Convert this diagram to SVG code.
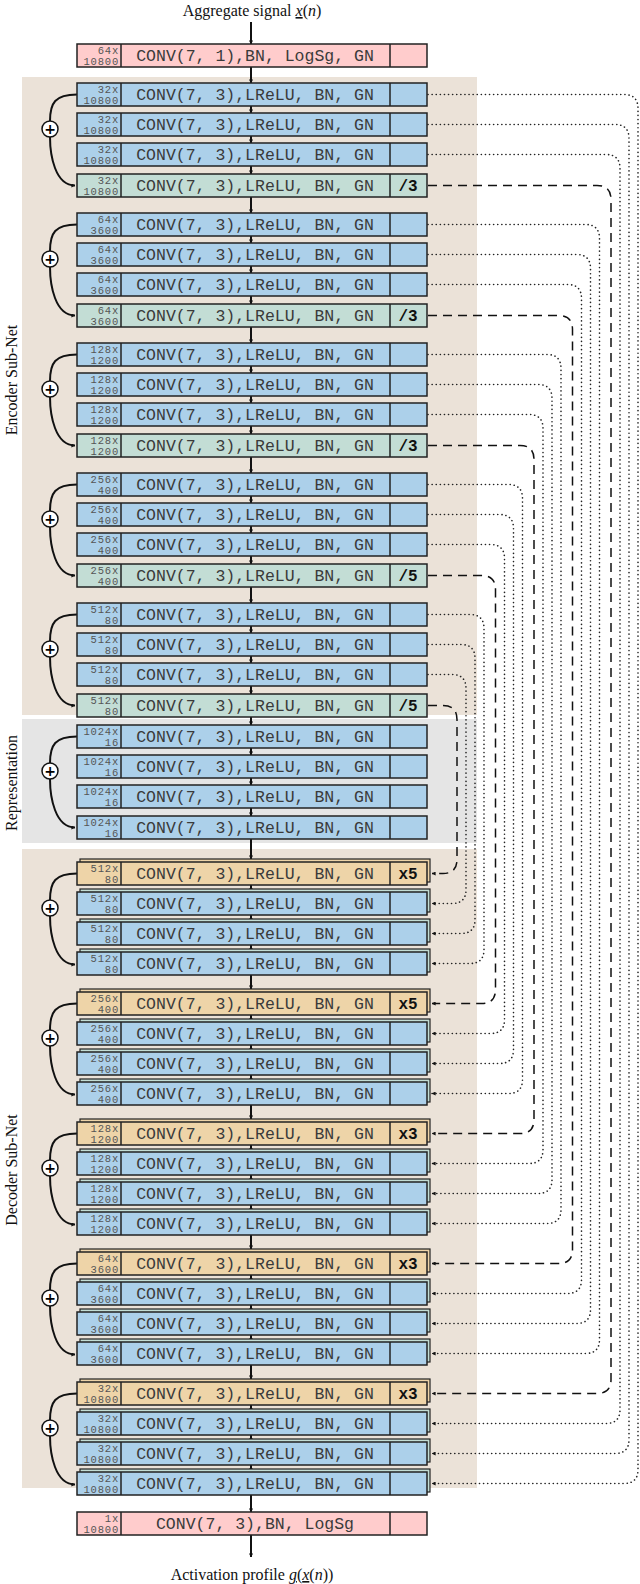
<svg xmlns="http://www.w3.org/2000/svg" xmlns:xlink="http://www.w3.org/1999/xlink" width="640" height="1584" viewBox="0 0 640 1584">
<style>
.bl{fill:#acd0ea}.gr{fill:#c3ddd5}.or{fill:#eed4a8}.pk{fill:#ffcccc}
.n{font-family:"Liberation Mono",monospace;font-size:10.5px;fill:#555;text-anchor:end;letter-spacing:0.8px}
.m{font-family:"Liberation Mono",monospace;font-size:16.5px;fill:#3a3a3a;text-anchor:middle}
.r{font-family:"Liberation Mono",monospace;font-size:16px;font-weight:bold;fill:#111;text-anchor:middle}
.s{font-family:"Liberation Serif",serif;font-size:16px;fill:#111;text-anchor:middle}
.dot{fill:none;stroke:#222;stroke-width:1.6;stroke-linecap:round;stroke-dasharray:0.1 4;marker-end:url(#ah)}
.dsh{fill:none;stroke:#111;stroke-width:1.5;stroke-dasharray:9 6;marker-end:url(#ah)}
.va{stroke:#111;stroke-width:2;marker-end:url(#ah)}
.sk{fill:none;stroke:#111;stroke-width:2}
</style>
<defs>
<marker id="ah" viewBox="0 0 10 10" refX="9" refY="5" markerWidth="4" markerHeight="4" orient="auto" markerUnits="userSpaceOnUse"><path d="M0,0L10,5L0,10z" fill="#111"/></marker>
<g id="box"><rect x="77" y="0" width="350" height="23" stroke="#222" stroke-width="1.5"/><path d="M121,0V23M390,0V23" stroke="#222" stroke-width="1.5"/></g>
<g id="sh"><rect x="80" y="-3" width="350" height="23" fill="#c3ddd5" stroke="#222" stroke-width="1.2"/></g>
<g id="sho"><rect x="80" y="-3" width="350" height="23" fill="#eed4a8" stroke="#222" stroke-width="1.2"/></g>
<g id="skip"><path class="sk" d="M77,11.5C55,11.5 50,20 50,38"/><path class="sk" d="M50,54C50,72 55,102.5 75,102.5" marker-end="url(#ah)"/><circle cx="50" cy="46" r="8" fill="#fff" stroke="#111" stroke-width="1.5"/><text x="50" y="51" style="font-family:'DejaVu Sans',sans-serif;font-size:14px;font-weight:bold;text-anchor:middle">+</text></g>
</defs>
<rect x="22" y="77" width="455" height="638" fill="#ebe2d8"/>
<rect x="22" y="719" width="455" height="124" fill="#e5e5e5"/>
<rect x="22" y="849" width="455" height="639" fill="#ebe2d8"/>
<text class="s" transform="translate(17,380) rotate(-90)">Encoder Sub-Net</text>
<text class="s" transform="translate(17,783) rotate(-90)">Representation</text>
<text class="s" transform="translate(17,1170) rotate(-90)">Decoder Sub-Net</text>
<text class="s" x="252" y="16">Aggregate signal <tspan font-style="italic" text-decoration="underline">x</tspan>(<tspan font-style="italic">n</tspan>)</text>
<text class="s" x="252" y="1580">Activation profile <tspan font-style="italic" text-decoration="underline">g</tspan>(<tspan font-style="italic" text-decoration="underline">x</tspan>(<tspan font-style="italic">n</tspan>))</text>
<g id="arrows">
<line class="va" x1="251" y1="22" x2="251" y2="44"/><line class="va" x1="251" y1="67" x2="251" y2="83"/>
<line class="va" x1="251" y1="106" x2="251" y2="113"/><line class="va" x1="251" y1="136" x2="251" y2="143"/><line class="va" x1="251" y1="166" x2="251" y2="174"/><line class="va" x1="251" y1="197" x2="251" y2="213"/>
<line class="va" x1="251" y1="236" x2="251" y2="243"/><line class="va" x1="251" y1="266" x2="251" y2="273"/><line class="va" x1="251" y1="296" x2="251" y2="304"/><line class="va" x1="251" y1="327" x2="251" y2="343"/>
<line class="va" x1="251" y1="366" x2="251" y2="373"/><line class="va" x1="251" y1="396" x2="251" y2="403"/><line class="va" x1="251" y1="426" x2="251" y2="434"/><line class="va" x1="251" y1="457" x2="251" y2="473"/>
<line class="va" x1="251" y1="496" x2="251" y2="503"/><line class="va" x1="251" y1="526" x2="251" y2="533"/><line class="va" x1="251" y1="556" x2="251" y2="564"/><line class="va" x1="251" y1="587" x2="251" y2="603"/>
<line class="va" x1="251" y1="626" x2="251" y2="633"/><line class="va" x1="251" y1="656" x2="251" y2="663"/><line class="va" x1="251" y1="686" x2="251" y2="694"/><line class="va" x1="251" y1="717" x2="251" y2="725"/>
<line class="va" x1="251" y1="748" x2="251" y2="755"/><line class="va" x1="251" y1="778" x2="251" y2="785"/><line class="va" x1="251" y1="808" x2="251" y2="816"/><line class="va" x1="251" y1="839" x2="251" y2="859"/>
<line class="va" x1="251" y1="885" x2="251" y2="892"/><line class="va" x1="251" y1="915" x2="251" y2="922"/><line class="va" x1="251" y1="945" x2="251" y2="952"/><line class="va" x1="251" y1="975" x2="251" y2="989"/>
<line class="va" x1="251" y1="1015" x2="251" y2="1022"/><line class="va" x1="251" y1="1045" x2="251" y2="1052"/><line class="va" x1="251" y1="1075" x2="251" y2="1082"/><line class="va" x1="251" y1="1105" x2="251" y2="1119"/>
<line class="va" x1="251" y1="1145" x2="251" y2="1152"/><line class="va" x1="251" y1="1175" x2="251" y2="1182"/><line class="va" x1="251" y1="1205" x2="251" y2="1212"/><line class="va" x1="251" y1="1235" x2="251" y2="1249"/>
<line class="va" x1="251" y1="1275" x2="251" y2="1282"/><line class="va" x1="251" y1="1305" x2="251" y2="1312"/><line class="va" x1="251" y1="1335" x2="251" y2="1342"/><line class="va" x1="251" y1="1365" x2="251" y2="1379"/>
<line class="va" x1="251" y1="1405" x2="251" y2="1412"/><line class="va" x1="251" y1="1435" x2="251" y2="1442"/><line class="va" x1="251" y1="1465" x2="251" y2="1472"/><line class="va" x1="251" y1="1495" x2="251" y2="1512"/>
<line class="va" x1="251" y1="1535" x2="251" y2="1557"/>
<use href="#skip" y="83"/><use href="#skip" y="213"/><use href="#skip" y="343"/><use href="#skip" y="473"/><use href="#skip" y="603"/>
<use href="#skip" y="725"/><use href="#skip" y="862"/><use href="#skip" y="992"/><use href="#skip" y="1122"/><use href="#skip" y="1252"/><use href="#skip" y="1382"/>
<path class="dot" d="M428,94.5H624Q638,94.5 638,108.5V1469.5Q638,1483.5 624,1483.5H432"/>
<path class="dot" d="M428,124.5H615Q629,124.5 629,138.5V1439.5Q629,1453.5 615,1453.5H432"/>
<path class="dot" d="M428,154.5H606Q620,154.5 620,168.5V1409.5Q620,1423.5 606,1423.5H432"/>
<path class="dsh" d="M428,185.5H597Q611,185.5 611,199.5V1379.5Q611,1393.5 597,1393.5H432"/>
<path class="dot" d="M428,224.5H585.5Q599.5,224.5 599.5,238.5V1339.5Q599.5,1353.5 585.5,1353.5H432"/>
<path class="dot" d="M428,254.5H576.5Q590.5,254.5 590.5,268.5V1309.5Q590.5,1323.5 576.5,1323.5H432"/>
<path class="dot" d="M428,284.5H567.5Q581.5,284.5 581.5,298.5V1279.5Q581.5,1293.5 567.5,1293.5H432"/>
<path class="dsh" d="M428,315.5H558.5Q572.5,315.5 572.5,329.5V1249.5Q572.5,1263.5 558.5,1263.5H432"/>
<path class="dot" d="M428,354.5H547Q561,354.5 561,368.5V1209.5Q561,1223.5 547,1223.5H432"/>
<path class="dot" d="M428,384.5H538Q552,384.5 552,398.5V1179.5Q552,1193.5 538,1193.5H432"/>
<path class="dot" d="M428,414.5H529Q543,414.5 543,428.5V1149.5Q543,1163.5 529,1163.5H432"/>
<path class="dsh" d="M428,445.5H520Q534,445.5 534,459.5V1119.5Q534,1133.5 520,1133.5H432"/>
<path class="dot" d="M428,484.5H508.5Q522.5,484.5 522.5,498.5V1079.5Q522.5,1093.5 508.5,1093.5H432"/>
<path class="dot" d="M428,514.5H499.5Q513.5,514.5 513.5,528.5V1049.5Q513.5,1063.5 499.5,1063.5H432"/>
<path class="dot" d="M428,544.5H490.5Q504.5,544.5 504.5,558.5V1019.5Q504.5,1033.5 490.5,1033.5H432"/>
<path class="dsh" d="M428,575.5H481.5Q495.5,575.5 495.5,589.5V989.5Q495.5,1003.5 481.5,1003.5H432"/>
<path class="dot" d="M428,614.5H470Q484,614.5 484,628.5V949.5Q484,963.5 470,963.5H432"/>
<path class="dot" d="M428,644.5H461Q475,644.5 475,658.5V919.5Q475,933.5 461,933.5H432"/>
<path class="dot" d="M428,674.5H452Q466,674.5 466,688.5V889.5Q466,903.5 452,903.5H432"/>
<path class="dsh" d="M428,705.5H443Q457,705.5 457,719.5V859.5Q457,873.5 443,873.5H432"/>
</g>
<g id="in"><use href="#box" y="44" class="pk"/><text class="n" x="119" y="53.5">64x</text><text class="n" x="119" y="65">10800</text><text class="m" x="255" y="61">CONV(7, 1),BN, LogSg, GN</text></g>
<g id="out"><use href="#box" y="1512" class="pk"/><text class="n" x="119" y="1521.5">1x</text><text class="n" x="119" y="1533">10800</text><text class="m" x="255" y="1529">CONV(7, 3),BN, LogSg</text></g>
<g id="enc0">
<use href="#box" y="83" class="bl"/><text class="n" x="119" y="92.5">32x</text><text class="n" x="119" y="104">10800</text><text class="m" x="255" y="100">CONV(7, 3),LReLU, BN, GN</text>
<use href="#box" y="113" class="bl"/><text class="n" x="119" y="122.5">32x</text><text class="n" x="119" y="134">10800</text><text class="m" x="255" y="130">CONV(7, 3),LReLU, BN, GN</text>
<use href="#box" y="143" class="bl"/><text class="n" x="119" y="152.5">32x</text><text class="n" x="119" y="164">10800</text><text class="m" x="255" y="160">CONV(7, 3),LReLU, BN, GN</text>
<use href="#box" y="174" class="gr"/><text class="n" x="119" y="183.5">32x</text><text class="n" x="119" y="195">10800</text><text class="m" x="255" y="191">CONV(7, 3),LReLU, BN, GN</text><text class="r" x="408" y="191">/3</text>
</g>
<g id="enc1">
<use href="#box" y="213" class="bl"/><text class="n" x="119" y="222.5">64x</text><text class="n" x="119" y="234">3600</text><text class="m" x="255" y="230">CONV(7, 3),LReLU, BN, GN</text>
<use href="#box" y="243" class="bl"/><text class="n" x="119" y="252.5">64x</text><text class="n" x="119" y="264">3600</text><text class="m" x="255" y="260">CONV(7, 3),LReLU, BN, GN</text>
<use href="#box" y="273" class="bl"/><text class="n" x="119" y="282.5">64x</text><text class="n" x="119" y="294">3600</text><text class="m" x="255" y="290">CONV(7, 3),LReLU, BN, GN</text>
<use href="#box" y="304" class="gr"/><text class="n" x="119" y="313.5">64x</text><text class="n" x="119" y="325">3600</text><text class="m" x="255" y="321">CONV(7, 3),LReLU, BN, GN</text><text class="r" x="408" y="321">/3</text>
</g>
<g id="enc2">
<use href="#box" y="343" class="bl"/><text class="n" x="119" y="352.5">128x</text><text class="n" x="119" y="364">1200</text><text class="m" x="255" y="360">CONV(7, 3),LReLU, BN, GN</text>
<use href="#box" y="373" class="bl"/><text class="n" x="119" y="382.5">128x</text><text class="n" x="119" y="394">1200</text><text class="m" x="255" y="390">CONV(7, 3),LReLU, BN, GN</text>
<use href="#box" y="403" class="bl"/><text class="n" x="119" y="412.5">128x</text><text class="n" x="119" y="424">1200</text><text class="m" x="255" y="420">CONV(7, 3),LReLU, BN, GN</text>
<use href="#box" y="434" class="gr"/><text class="n" x="119" y="443.5">128x</text><text class="n" x="119" y="455">1200</text><text class="m" x="255" y="451">CONV(7, 3),LReLU, BN, GN</text><text class="r" x="408" y="451">/3</text>
</g>
<g id="enc3">
<use href="#box" y="473" class="bl"/><text class="n" x="119" y="482.5">256x</text><text class="n" x="119" y="494">400</text><text class="m" x="255" y="490">CONV(7, 3),LReLU, BN, GN</text>
<use href="#box" y="503" class="bl"/><text class="n" x="119" y="512.5">256x</text><text class="n" x="119" y="524">400</text><text class="m" x="255" y="520">CONV(7, 3),LReLU, BN, GN</text>
<use href="#box" y="533" class="bl"/><text class="n" x="119" y="542.5">256x</text><text class="n" x="119" y="554">400</text><text class="m" x="255" y="550">CONV(7, 3),LReLU, BN, GN</text>
<use href="#box" y="564" class="gr"/><text class="n" x="119" y="573.5">256x</text><text class="n" x="119" y="585">400</text><text class="m" x="255" y="581">CONV(7, 3),LReLU, BN, GN</text><text class="r" x="408" y="581">/5</text>
</g>
<g id="enc4">
<use href="#box" y="603" class="bl"/><text class="n" x="119" y="612.5">512x</text><text class="n" x="119" y="624">80</text><text class="m" x="255" y="620">CONV(7, 3),LReLU, BN, GN</text>
<use href="#box" y="633" class="bl"/><text class="n" x="119" y="642.5">512x</text><text class="n" x="119" y="654">80</text><text class="m" x="255" y="650">CONV(7, 3),LReLU, BN, GN</text>
<use href="#box" y="663" class="bl"/><text class="n" x="119" y="672.5">512x</text><text class="n" x="119" y="684">80</text><text class="m" x="255" y="680">CONV(7, 3),LReLU, BN, GN</text>
<use href="#box" y="694" class="gr"/><text class="n" x="119" y="703.5">512x</text><text class="n" x="119" y="715">80</text><text class="m" x="255" y="711">CONV(7, 3),LReLU, BN, GN</text><text class="r" x="408" y="711">/5</text>
</g>
<g id="rep">
<use href="#box" y="725" class="bl"/><text class="n" x="119" y="734.5">1024x</text><text class="n" x="119" y="746">16</text><text class="m" x="255" y="742">CONV(7, 3),LReLU, BN, GN</text>
<use href="#box" y="755" class="bl"/><text class="n" x="119" y="764.5">1024x</text><text class="n" x="119" y="776">16</text><text class="m" x="255" y="772">CONV(7, 3),LReLU, BN, GN</text>
<use href="#box" y="785" class="bl"/><text class="n" x="119" y="794.5">1024x</text><text class="n" x="119" y="806">16</text><text class="m" x="255" y="802">CONV(7, 3),LReLU, BN, GN</text>
<use href="#box" y="816" class="bl"/><text class="n" x="119" y="825.5">1024x</text><text class="n" x="119" y="837">16</text><text class="m" x="255" y="833">CONV(7, 3),LReLU, BN, GN</text>
</g>
<g id="dec0">
<use href="#sho" y="862"/><use href="#box" y="862" class="or"/><text class="n" x="119" y="871.5">512x</text><text class="n" x="119" y="883">80</text><text class="m" x="255" y="879">CONV(7, 3),LReLU, BN, GN</text><text class="r" x="408" y="879">x5</text>
<use href="#sh" y="892"/><use href="#box" y="892" class="bl"/><text class="n" x="119" y="901.5">512x</text><text class="n" x="119" y="913">80</text><text class="m" x="255" y="909">CONV(7, 3),LReLU, BN, GN</text>
<use href="#sh" y="922"/><use href="#box" y="922" class="bl"/><text class="n" x="119" y="931.5">512x</text><text class="n" x="119" y="943">80</text><text class="m" x="255" y="939">CONV(7, 3),LReLU, BN, GN</text>
<use href="#sh" y="952"/><use href="#box" y="952" class="bl"/><text class="n" x="119" y="961.5">512x</text><text class="n" x="119" y="973">80</text><text class="m" x="255" y="969">CONV(7, 3),LReLU, BN, GN</text>
</g>
<g id="dec1">
<use href="#sho" y="992"/><use href="#box" y="992" class="or"/><text class="n" x="119" y="1001.5">256x</text><text class="n" x="119" y="1013">400</text><text class="m" x="255" y="1009">CONV(7, 3),LReLU, BN, GN</text><text class="r" x="408" y="1009">x5</text>
<use href="#sh" y="1022"/><use href="#box" y="1022" class="bl"/><text class="n" x="119" y="1031.5">256x</text><text class="n" x="119" y="1043">400</text><text class="m" x="255" y="1039">CONV(7, 3),LReLU, BN, GN</text>
<use href="#sh" y="1052"/><use href="#box" y="1052" class="bl"/><text class="n" x="119" y="1061.5">256x</text><text class="n" x="119" y="1073">400</text><text class="m" x="255" y="1069">CONV(7, 3),LReLU, BN, GN</text>
<use href="#sh" y="1082"/><use href="#box" y="1082" class="bl"/><text class="n" x="119" y="1091.5">256x</text><text class="n" x="119" y="1103">400</text><text class="m" x="255" y="1099">CONV(7, 3),LReLU, BN, GN</text>
</g>
<g id="dec2">
<use href="#sho" y="1122"/><use href="#box" y="1122" class="or"/><text class="n" x="119" y="1131.5">128x</text><text class="n" x="119" y="1143">1200</text><text class="m" x="255" y="1139">CONV(7, 3),LReLU, BN, GN</text><text class="r" x="408" y="1139">x3</text>
<use href="#sh" y="1152"/><use href="#box" y="1152" class="bl"/><text class="n" x="119" y="1161.5">128x</text><text class="n" x="119" y="1173">1200</text><text class="m" x="255" y="1169">CONV(7, 3),LReLU, BN, GN</text>
<use href="#sh" y="1182"/><use href="#box" y="1182" class="bl"/><text class="n" x="119" y="1191.5">128x</text><text class="n" x="119" y="1203">1200</text><text class="m" x="255" y="1199">CONV(7, 3),LReLU, BN, GN</text>
<use href="#sh" y="1212"/><use href="#box" y="1212" class="bl"/><text class="n" x="119" y="1221.5">128x</text><text class="n" x="119" y="1233">1200</text><text class="m" x="255" y="1229">CONV(7, 3),LReLU, BN, GN</text>
</g>
<g id="dec3">
<use href="#sho" y="1252"/><use href="#box" y="1252" class="or"/><text class="n" x="119" y="1261.5">64x</text><text class="n" x="119" y="1273">3600</text><text class="m" x="255" y="1269">CONV(7, 3),LReLU, BN, GN</text><text class="r" x="408" y="1269">x3</text>
<use href="#sh" y="1282"/><use href="#box" y="1282" class="bl"/><text class="n" x="119" y="1291.5">64x</text><text class="n" x="119" y="1303">3600</text><text class="m" x="255" y="1299">CONV(7, 3),LReLU, BN, GN</text>
<use href="#sh" y="1312"/><use href="#box" y="1312" class="bl"/><text class="n" x="119" y="1321.5">64x</text><text class="n" x="119" y="1333">3600</text><text class="m" x="255" y="1329">CONV(7, 3),LReLU, BN, GN</text>
<use href="#sh" y="1342"/><use href="#box" y="1342" class="bl"/><text class="n" x="119" y="1351.5">64x</text><text class="n" x="119" y="1363">3600</text><text class="m" x="255" y="1359">CONV(7, 3),LReLU, BN, GN</text>
</g>
<g id="dec4">
<use href="#sho" y="1382"/><use href="#box" y="1382" class="or"/><text class="n" x="119" y="1391.5">32x</text><text class="n" x="119" y="1403">10800</text><text class="m" x="255" y="1399">CONV(7, 3),LReLU, BN, GN</text><text class="r" x="408" y="1399">x3</text>
<use href="#sh" y="1412"/><use href="#box" y="1412" class="bl"/><text class="n" x="119" y="1421.5">32x</text><text class="n" x="119" y="1433">10800</text><text class="m" x="255" y="1429">CONV(7, 3),LReLU, BN, GN</text>
<use href="#sh" y="1442"/><use href="#box" y="1442" class="bl"/><text class="n" x="119" y="1451.5">32x</text><text class="n" x="119" y="1463">10800</text><text class="m" x="255" y="1459">CONV(7, 3),LReLU, BN, GN</text>
<use href="#sh" y="1472"/><use href="#box" y="1472" class="bl"/><text class="n" x="119" y="1481.5">32x</text><text class="n" x="119" y="1493">10800</text><text class="m" x="255" y="1489">CONV(7, 3),LReLU, BN, GN</text>
</g>
</svg>
